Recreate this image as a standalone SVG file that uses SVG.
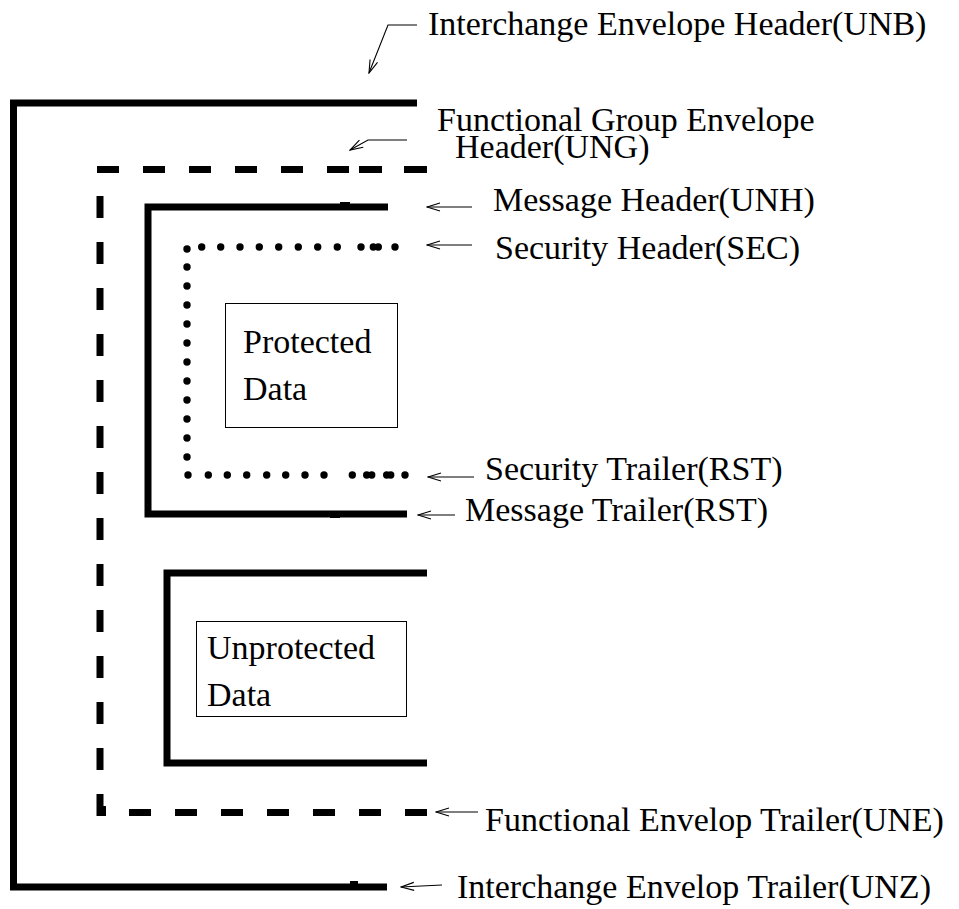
<svg xmlns="http://www.w3.org/2000/svg" width="959" height="909" viewBox="0 0 959 909">
  <style>
    .solid { fill: none; stroke: #000; stroke-width: 7; stroke-linecap: butt; stroke-linejoin: miter; }
    .dash { fill: none; stroke: #000; stroke-width: 7; stroke-dasharray: 22 24; stroke-linecap: butt; }
    .dot { fill: #000; }
    .box { fill: #fff; stroke: #000; stroke-width: 1; }
    .lead { fill: none; stroke: #000; stroke-width: 1.1; }
    text { font-family: "Liberation Serif", "Times New Roman", serif; font-size: 34px; fill: #000; }
  </style>
  <defs>
    <marker id="open-head" markerUnits="userSpaceOnUse" markerWidth="16" markerHeight="12" refX="0" refY="0" viewBox="-15 -6 16 12" orient="auto">
      <path d="M-13,-4 L0,0 L-13,4" fill="none" stroke="#000" stroke-width="1.1"/>
    </marker>
    <circle id="d" r="3.7" class="dot"/>
  </defs>

  <rect width="959" height="909" fill="#fff"/>

  <!-- Interchange envelope (UNB ... UNZ) -->
  <g id="interchange">
    <path class="solid" d="M417 103 H13.5 V887 H387"/>
    <rect x="350" y="881" width="8" height="4" fill="#000"/>
  </g>

  <!-- Functional group envelope (UNG ... UNE), dashed -->
  <g id="functional-group">
    <path class="dash" d="M97 169.5 H349"/>
    <rect x="359" y="166" width="23" height="7" fill="#000"/>
    <rect x="404" y="166" width="23" height="7" fill="#000"/>
    <path class="dash" d="M100 196 V816"/>
    <rect x="97" y="806" width="9" height="10" fill="#000"/>
    <path class="dash" d="M129 812.5 H428"/>
  </g>

  <!-- Message (UNH ... UNT) -->
  <g id="message">
    <path class="solid" d="M388 207 H148 V514 H407"/>
    <rect x="340" y="202" width="10" height="3" fill="#000"/>
    <rect x="330" y="516" width="10" height="2" fill="#000"/>
  </g>

  <!-- Security header / trailer, dotted -->
  <g id="security">
    <use href="#d" x="187" y="249"/>
    <use href="#d" x="201.7" y="247"/>
    <use href="#d" x="220.7" y="247"/>
    <use href="#d" x="240" y="247"/>
    <use href="#d" x="259.3" y="247"/>
    <use href="#d" x="278.7" y="247"/>
    <use href="#d" x="298.3" y="247"/>
    <use href="#d" x="317.7" y="247"/>
    <use href="#d" x="337.3" y="247"/>
    <use href="#d" x="361" y="247"/>
    <use href="#d" x="373.3" y="247"/>
    <use href="#d" x="378.3" y="247"/>
    <use href="#d" x="395" y="247"/>

    <use href="#d" x="187" y="267"/>
    <use href="#d" x="187" y="286"/>
    <use href="#d" x="187" y="305"/>
    <use href="#d" x="187" y="324"/>
    <use href="#d" x="187" y="343"/>
    <use href="#d" x="187" y="362"/>
    <use href="#d" x="187" y="381"/>
    <use href="#d" x="187" y="400"/>
    <use href="#d" x="187" y="419"/>
    <use href="#d" x="187" y="438"/>
    <use href="#d" x="187" y="457"/>

    <use href="#d" x="188" y="475"/>
    <use href="#d" x="208.3" y="475"/>
    <use href="#d" x="227.3" y="475"/>
    <use href="#d" x="246.7" y="475"/>
    <use href="#d" x="266.7" y="475"/>
    <use href="#d" x="285.7" y="475"/>
    <use href="#d" x="305" y="475"/>
    <use href="#d" x="324" y="475"/>
    <use href="#d" x="352.3" y="475"/>
    <use href="#d" x="366.7" y="475"/>
    <use href="#d" x="371.7" y="475"/>
    <use href="#d" x="386.7" y="475"/>
    <use href="#d" x="390.7" y="475"/>
    <use href="#d" x="405" y="475"/>
  </g>

  <!-- Protected data -->
  <g id="protected-data">
    <rect class="box" x="225.5" y="303.5" width="172" height="124"/>
    <text x="243" y="353">Protected</text>
    <text x="243" y="400">Data</text>
  </g>

  <!-- Unprotected message -->
  <g id="unprotected-message">
    <path class="solid" d="M427 573 H167 V763 H427"/>
  </g>

  <!-- Unprotected data -->
  <g id="unprotected-data">
    <rect class="box" x="196.5" y="621.5" width="210" height="95"/>
    <text x="207" y="659">Unprotected</text>
    <text x="207" y="706">Data</text>
  </g>

  <!-- Leader lines -->
  <g id="connectors">
    <path class="lead" d="M417 25 H388 L369 73" marker-end="url(#open-head)"/>
    <path class="lead" d="M407 140 H368 L350 150" marker-end="url(#open-head)"/>
    <path class="lead" d="M472 207 H427" marker-end="url(#open-head)"/>
    <path class="lead" d="M472 245 H427" marker-end="url(#open-head)"/>
    <path class="lead" d="M474 477 H428" marker-end="url(#open-head)"/>
    <path class="lead" d="M455 515 H418" marker-end="url(#open-head)"/>
    <path class="lead" d="M478 812 H436" marker-end="url(#open-head)"/>
    <path class="lead" d="M442 885 L401 887" marker-end="url(#open-head)"/>
  </g>

  <!-- Labels -->
  <g id="labels">
    <text x="428" y="35">Interchange Envelope Header(UNB)</text>
    <text x="437" y="131">Functional Group Envelope</text>
    <text x="455" y="158">Header(UNG)</text>
    <text x="493" y="211">Message Header(UNH)</text>
    <text x="495" y="259">Security Header(SEC)</text>
    <text x="485" y="480">Security Trailer(RST)</text>
    <text x="465" y="521">Message Trailer(RST)</text>
    <text x="485" y="831">Functional Envelop Trailer(UNE)</text>
    <text x="457" y="898">Interchange Envelop Trailer(UNZ)</text>
  </g>
</svg>
